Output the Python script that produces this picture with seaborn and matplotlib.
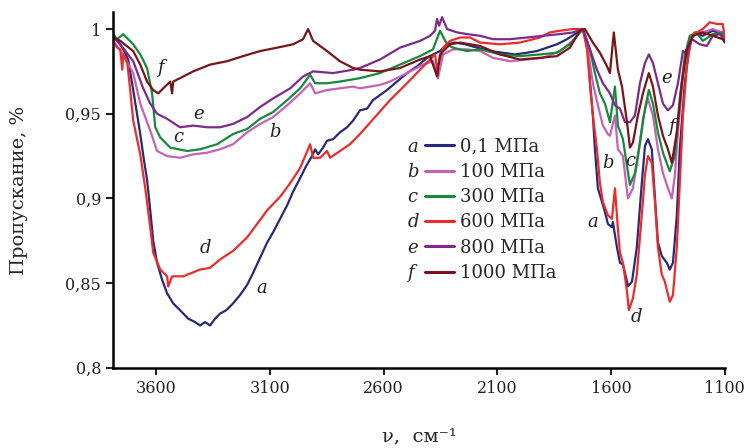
import numpy as np
import pandas as pd
import matplotlib
matplotlib.use("Agg")
import matplotlib.pyplot as plt
import seaborn as sns
from matplotlib.lines import Line2D

# IR transmission spectra (wavenumber, cm-1 / transmission)
wn_a = [3789, 3767, 3741, 3723, 3701, 3683, 3670, 3653, 3640, 3626, 3613, 3596, 3574, 3552, 3525,
        3495, 3459, 3429, 3407, 3385, 3363, 3341, 3319, 3292, 3262, 3231, 3200, 3174, 3143, 3112,
        3086, 3055, 3024, 2998, 2967, 2941, 2915, 2901, 2888, 2866, 2849, 2822, 2792, 2761, 2734,
        2704, 2673, 2647, 2585, 2541, 2497, 2453, 2409, 2383, 2352, 2321, 2286, 2242, 2189, 2132,
        2075, 2023, 1970, 1926, 1882, 1838, 1794, 1759, 1724, 1702, 1693, 1680, 1671, 1658, 1640,
        1627, 1614, 1596, 1592, 1574, 1561, 1548, 1530, 1526, 1508, 1487, 1465, 1451, 1438, 1421,
        1407, 1394, 1377, 1355, 1342, 1328, 1311, 1298, 1276, 1254, 1232, 1197, 1153, 1113, 1100]
t_a = [0.995, 0.993, 0.987, 0.982, 0.964, 0.949, 0.938, 0.922, 0.911, 0.893, 0.875, 0.862, 0.852, 0.844, 0.838,
       0.834, 0.829, 0.827, 0.825, 0.827, 0.825, 0.829, 0.832, 0.834, 0.838, 0.843, 0.849, 0.856, 0.865, 0.874,
       0.880, 0.888, 0.896, 0.904, 0.912, 0.919, 0.925, 0.929, 0.926, 0.930, 0.934, 0.935, 0.939, 0.942, 0.946,
       0.952, 0.953, 0.958, 0.964, 0.969, 0.974, 0.978, 0.983, 0.985, 0.987, 0.991, 0.992, 0.991, 0.989, 0.987,
       0.986, 0.985, 0.986, 0.987, 0.989, 0.991, 0.994, 0.997, 1.000, 0.988, 0.969, 0.949, 0.929, 0.906, 0.898,
       0.892, 0.885, 0.883, 0.886, 0.871, 0.862, 0.861, 0.851, 0.848, 0.851, 0.871, 0.909, 0.931, 0.935, 0.929,
       0.900, 0.874, 0.866, 0.862, 0.858, 0.862, 0.890, 0.929, 0.968, 0.992, 0.998, 0.996, 0.999, 0.997, 0.994]

wn_b = [3789, 3745, 3701, 3670, 3626, 3596, 3552, 3495, 3437, 3376, 3319, 3262, 3200, 3143, 3086,
        3024, 2967, 2923, 2901, 2849, 2792, 2734, 2704, 2616, 2572, 2497, 2427, 2383, 2361, 2339,
        2295, 2233, 2176, 2119, 2044, 1970, 1900, 1825, 1768, 1724, 1702, 1680, 1658, 1636, 1614,
        1605, 1583, 1570, 1548, 1526, 1504, 1482, 1460, 1438, 1416, 1394, 1372, 1350, 1333, 1320,
        1306, 1284, 1262, 1223, 1197, 1153, 1109, 1100]
t_b = [0.993, 0.985, 0.974, 0.956, 0.940, 0.928, 0.925, 0.924, 0.926, 0.927, 0.929, 0.932, 0.939, 0.944, 0.948,
       0.955, 0.962, 0.968, 0.962, 0.964, 0.965, 0.966, 0.965, 0.967, 0.969, 0.974, 0.979, 0.981, 0.971, 0.985,
       0.988, 0.988, 0.987, 0.983, 0.981, 0.982, 0.983, 0.987, 0.993, 1.000, 0.988, 0.968, 0.955, 0.943, 0.938,
       0.937, 0.949, 0.929, 0.925, 0.900, 0.906, 0.924, 0.947, 0.959, 0.949, 0.929, 0.915, 0.906, 0.900, 0.913,
       0.939, 0.972, 0.992, 0.998, 0.998, 1.000, 0.998, 0.995]

wn_c = [3789, 3771, 3745, 3701, 3670, 3640, 3618, 3604, 3582, 3538, 3464, 3407, 3332, 3262, 3200,
        3143, 3086, 3024, 2967, 2923, 2901, 2849, 2792, 2704, 2616, 2528, 2440, 2383, 2352, 2321,
        2295, 2233, 2176, 2088, 2001, 1913, 1838, 1781, 1737, 1724, 1693, 1671, 1649, 1627, 1605,
        1583, 1570, 1548, 1530, 1517, 1495, 1473, 1451, 1434, 1416, 1394, 1372, 1342, 1320, 1298,
        1276, 1254, 1223, 1197, 1153, 1109, 1100]
t_c = [0.997, 0.994, 0.997, 0.991, 0.985, 0.977, 0.962, 0.942, 0.936, 0.930, 0.928, 0.929, 0.932, 0.938, 0.941,
       0.947, 0.951, 0.958, 0.965, 0.973, 0.968, 0.968, 0.969, 0.971, 0.974, 0.979, 0.984, 0.988, 0.999, 0.991,
       0.989, 0.987, 0.988, 0.985, 0.984, 0.985, 0.986, 0.991, 0.998, 1.000, 0.988, 0.974, 0.962, 0.956, 0.945,
       0.966, 0.943, 0.935, 0.919, 0.908, 0.915, 0.933, 0.953, 0.964, 0.956, 0.939, 0.927, 0.916, 0.925, 0.959,
       0.984, 0.996, 0.998, 0.993, 0.997, 0.998, 0.994]

wn_d = [3789, 3771, 3758, 3749, 3745, 3727, 3714, 3701, 3670, 3648, 3626, 3613, 3582, 3552, 3547,
        3530, 3481, 3407, 3363, 3319, 3262, 3200, 3156, 3112, 3055, 3011, 2967, 2923, 2910, 2879,
        2849, 2835, 2792, 2748, 2704, 2572, 2497, 2440, 2396, 2374, 2365, 2339, 2308, 2264, 2220,
        2176, 2088, 2001, 1913, 1869, 1825, 1768, 1724, 1706, 1693, 1680, 1662, 1649, 1636, 1614,
        1596, 1583, 1570, 1561, 1548, 1530, 1522, 1504, 1487, 1465, 1451, 1438, 1421, 1407, 1394,
        1377, 1364, 1342, 1328, 1311, 1298, 1284, 1267, 1245, 1223, 1197, 1166, 1135, 1109, 1100]
t_d = [0.992, 0.989, 0.988, 0.976, 0.985, 0.980, 0.964, 0.946, 0.926, 0.906, 0.883, 0.868, 0.858, 0.854, 0.848,
       0.854, 0.854, 0.858, 0.859, 0.864, 0.869, 0.877, 0.885, 0.893, 0.901, 0.909, 0.918, 0.932, 0.924, 0.924,
       0.928, 0.924, 0.928, 0.932, 0.938, 0.958, 0.968, 0.976, 0.982, 0.985, 0.976, 0.989, 0.993, 0.995, 0.995,
       0.992, 0.991, 0.992, 0.995, 0.998, 0.999, 1.000, 1.000, 0.988, 0.968, 0.949, 0.929, 0.909, 0.898, 0.890,
       0.888, 0.906, 0.882, 0.868, 0.862, 0.845, 0.834, 0.841, 0.855, 0.890, 0.914, 0.925, 0.921, 0.898, 0.871,
       0.855, 0.851, 0.839, 0.843, 0.871, 0.909, 0.949, 0.978, 0.996, 0.998, 1.000, 1.004, 1.003, 1.003, 0.995]

wn_e = [3789, 3758, 3701, 3657, 3626, 3596, 3552, 3495, 3437, 3376, 3319, 3262, 3200, 3143, 3086,
        3011, 2954, 2910, 2822, 2734, 2704, 2616, 2528, 2440, 2396, 2374, 2365, 2356, 2343, 2321,
        2277, 2233, 2176, 2119, 2044, 1970, 1900, 1825, 1768, 1724, 1693, 1662, 1636, 1605, 1583,
        1561, 1539, 1517, 1495, 1473, 1451, 1434, 1416, 1394, 1372, 1350, 1328, 1306, 1284, 1267,
        1245, 1210, 1179, 1153, 1122, 1100]
t_e = [0.995, 0.991, 0.981, 0.965, 0.956, 0.950, 0.947, 0.942, 0.943, 0.942, 0.942, 0.944, 0.948, 0.954, 0.959,
       0.965, 0.972, 0.975, 0.974, 0.976, 0.977, 0.982, 0.989, 0.993, 0.996, 0.999, 1.006, 1.002, 1.007, 1.000,
       0.998, 0.997, 0.996, 0.994, 0.994, 0.995, 0.996, 0.997, 0.998, 1.000, 0.988, 0.976, 0.968, 0.962, 0.955,
       0.953, 0.945, 0.945, 0.949, 0.968, 0.980, 0.985, 0.980, 0.968, 0.956, 0.952, 0.955, 0.968, 0.987, 0.985,
       0.994, 0.991, 0.990, 0.996, 0.997, 0.993]

wn_f = [3789, 3758, 3701, 3670, 3640, 3613, 3591, 3569, 3538, 3530, 3525, 3495, 3437, 3363, 3288,
        3218, 3143, 3068, 2998, 2954, 2932, 2910, 2849, 2792, 2734, 2704, 2616, 2528, 2440, 2396,
        2365, 2352, 2308, 2264, 2220, 2176, 2088, 2001, 1913, 1838, 1781, 1737, 1715, 1680, 1649,
        1618, 1605, 1588, 1570, 1552, 1530, 1517, 1504, 1482, 1460, 1434, 1416, 1394, 1372, 1350,
        1333, 1311, 1289, 1267, 1240, 1197, 1153, 1109, 1100]
t_f = [0.995, 0.993, 0.987, 0.979, 0.969, 0.964, 0.962, 0.965, 0.969, 0.962, 0.969, 0.971, 0.975, 0.979, 0.981,
       0.984, 0.987, 0.989, 0.991, 0.994, 1.000, 0.993, 0.987, 0.981, 0.977, 0.976, 0.975, 0.977, 0.982, 0.984,
       0.972, 0.985, 0.991, 0.992, 0.991, 0.990, 0.985, 0.982, 0.983, 0.984, 0.989, 0.999, 1.000, 0.992, 0.986,
       0.978, 0.974, 0.998, 0.976, 0.966, 0.945, 0.930, 0.933, 0.949, 0.962, 0.974, 0.966, 0.949, 0.937, 0.929,
       0.921, 0.939, 0.968, 0.988, 0.996, 0.998, 0.996, 0.994, 0.992]

letters = ["a", "b", "c", "d", "e", "f"]
pressures = ["0,1 МПа", "100 МПа", "300 МПа", "600 МПа", "800 МПа", "1000 МПа"]
colors = ["#27297a", "#c462b8", "#168a3c", "#ee2b2b", "#7d2a8c", "#7a1418"]

x_ticks = [3600, 3100, 2600, 2100, 1600, 1100]
y_ticks = [0.8, 0.85, 0.9, 0.95, 1.0]
y_ticklabels = ["0,8", "0,85", "0,9", "0,95", "1"]

# curve labels written on the plot: (letter, wavenumber, transmission)
curve_labels = [("f", 3582, 0.977), ("e", 3415, 0.950), ("c", 3503, 0.936), ("b", 3077, 0.939),
                ("d", 3385, 0.871), ("a", 3134, 0.847), ("b", 1614, 0.921), ("c", 1517, 0.922),
                ("a", 1680, 0.886), ("d", 1487, 0.830), ("e", 1355, 0.971), ("f", 1333, 0.942)]

series = [(wn_a, t_a), (wn_b, t_b), (wn_c, t_c), (wn_d, t_d), (wn_e, t_e), (wn_f, t_f)]
df = pd.concat([pd.DataFrame({"wn": w, "T": t, "curve": k})
                for (w, t), k in zip(series, letters)], ignore_index=True)

sns.set_style("ticks")
plt.rcParams["font.family"] = ["DejaVu Serif"]

fig = plt.figure(figsize=(7.48, 4.48), dpi=100)
ax = fig.add_axes([0.151, 0.179, 0.818, 0.794])

sns.lineplot(data=df, x="wn", y="T", hue="curve", palette=colors, linewidth=1.6,
             legend=False, ax=ax, estimator=None, sort=False)

ax.set_xlim(3790, 1100)
ax.set_ylim(0.8, 1.01)
ax.set_xticks(x_ticks)
ax.set_xticklabels([str(v) for v in x_ticks])
ax.set_yticks(y_ticks)
ax.set_yticklabels(y_ticklabels)
ax.tick_params(labelsize=11.5, width=1.5, length=5, direction="out", colors="#222222")
for s in ["top", "right"]:
    ax.spines[s].set_visible(False)
for s in ["left", "bottom"]:
    ax.spines[s].set_linewidth(1.8)
    ax.spines[s].set_color("black")

ax.set_xlabel("ν,  см⁻¹", fontsize=14, labelpad=22)
ax.set_ylabel("Пропускание, %", fontsize=14)
ax.yaxis.set_label_coords(-0.139, 0.5)

for lt, xw, yv in curve_labels:
    ax.text(xw, yv, lt, fontsize=13, style="italic", ha="center", va="center", color="#222222")

# legend: letter column + line/pressure column
blank = [Line2D([], [], linestyle="none") for _ in letters]
lines = [Line2D([], [], color=c, linewidth=2.2) for c in colors]
leg = ax.legend(blank + lines, letters + pressures, ncol=2, frameon=False,
                loc="upper left", bbox_to_anchor=(0.409, 0.672), fontsize=13,
                handlelength=1.6, handletextpad=0.35, columnspacing=0.35,
                labelspacing=0.40, borderpad=0)
for txt in leg.get_texts()[:6]:
    txt.set_style("italic")

fig.savefig("out.png", dpi=100)
